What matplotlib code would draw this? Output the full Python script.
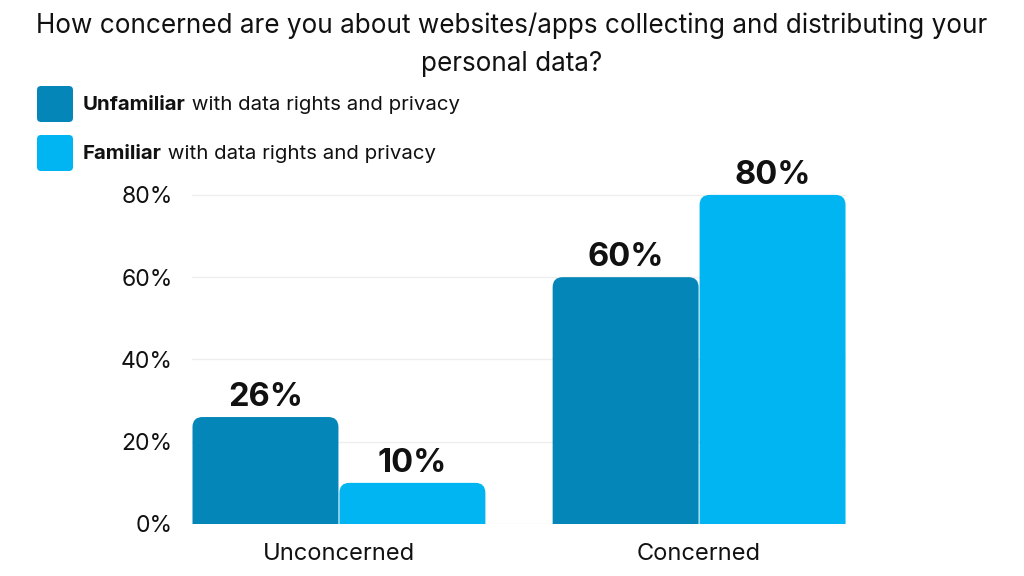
import matplotlib
matplotlib.use("Agg")
import matplotlib.pyplot as plt
from matplotlib.patches import FancyBboxPatch
from matplotlib.ticker import FuncFormatter

plt.rcParams['font.family'] = ['Inter', 'DejaVu Sans']

# ── data ──
categories = ["Unconcerned", "Concerned"]
unfamiliar = [26, 60]
familiar = [10, 80]
series_names = ["Unfamiliar", "Familiar"]
legend_rest = " with data rights and privacy"
title = "How concerned are you about websites/apps collecting and distributing your\npersonal data?"
yticks = [0, 20, 40, 60, 80]

colors = ["#0486b8", "#00b5f1"]

fig = plt.figure(figsize=(10.24, 5.76), dpi=100)
ax = fig.add_axes([0.1875, 0.0903, 0.6387, 0.6070])

width = 0.408
x = list(range(len(categories)))
bars1 = ax.bar([i - width / 2 for i in x], unfamiliar, width, color=colors[0], alpha=0)
bars2 = ax.bar([i + width / 2 for i in x], familiar, width, color=colors[1], alpha=0)

ax.set_xlim(-width, len(categories) - 1 + width)
ax.set_ylim(0, 85)

# rounded top corners: replace each bar with a rounded box extending below 0
fig.canvas.draw()
px_per_x = ax.transData.transform((1, 0))[0] - ax.transData.transform((0, 0))[0]
px_per_y = ax.transData.transform((0, 1))[1] - ax.transData.transform((0, 0))[1]
r_px = 10
rx = r_px / px_per_x
aspect = px_per_x / px_per_y
for bars, c in [(bars1, colors[0]), (bars2, colors[1])]:
    for b in bars:
        x0, w, h = b.get_x(), b.get_width(), b.get_height()
        y0 = -3 * r_px / px_per_y
        p = FancyBboxPatch((x0 + 0.5 / px_per_x, y0), w - 1.0 / px_per_x, h - y0,
                           boxstyle=f"round,pad=0,rounding_size={rx}",
                           mutation_aspect=aspect, facecolor=c, edgecolor="none",
                           zorder=3, clip_on=True)
        ax.add_patch(p)
        ax.annotate(f"{h:.0f}%", (x0 + w / 2, h), xytext=(0, 3), textcoords="offset points",
                    ha="center", va="bottom", fontsize=23.5, fontweight="bold", color="#111111",
                    annotation_clip=False)

ax.set_yticks(yticks)
ax.yaxis.set_major_formatter(FuncFormatter(lambda v, _: f"{v:.0f}%"))
ax.set_xticks(x)
ax.set_xticklabels(categories)
ax.tick_params(axis="y", length=0, labelsize=16.5, colors="#111111", pad=14)
ax.tick_params(axis="x", length=0, labelsize=17, colors="#111111", pad=14)
ax.grid(axis="y", color="#eeeeee", linewidth=1)
ax.set_axisbelow(True)
for s in ax.spines.values():
    s.set_visible(False)

fig.text(0.5, 0.978, title, ha="center", va="top", fontsize=18.8, color="#111111", linespacing=1.6)

# legend
for i, name in enumerate(series_names):
    ytop = 1 - (86 + i * 49) / 576
    sq = FancyBboxPatch((37 / 1024, ytop - 36 / 576), 36 / 1024, 36 / 576,
                        boxstyle="round,pad=0,rounding_size=0.004", transform=fig.transFigure,
                        facecolor=colors[i], edgecolor="none", mutation_aspect=1024 / 576)
    fig.patches.append(sq)
    t = fig.text(83 / 1024, ytop - 19 / 576, name, ha="left", va="center", fontsize=14.7,
                 fontweight="bold", color="#111111")
    fig.canvas.draw()
    ax.annotate(legend_rest, xy=(1, 0), xycoords=t, ha="left", va="bottom", fontsize=14.7,
                color="#111111", annotation_clip=False)

fig.savefig("out.png", dpi=100, facecolor="white")
